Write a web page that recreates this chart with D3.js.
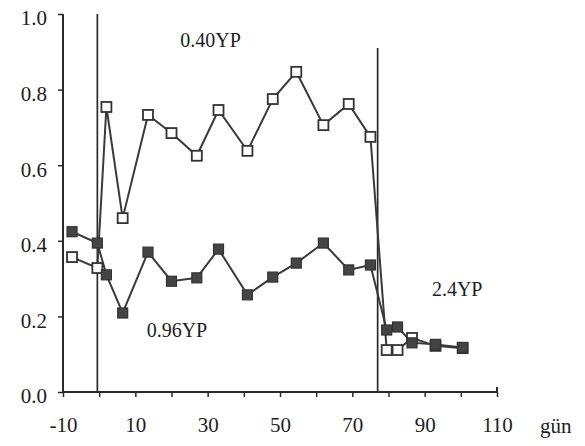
<!DOCTYPE html>
<html>
<head>
<meta charset="utf-8">
<script src="https://cdn.jsdelivr.net/npm/d3@7"></script>
<style>
  html, body { margin: 0; padding: 0; background: #fff; }
  svg { display: block; }
  text { font-family: "Liberation Serif", "Times New Roman", serif; fill: #1e1e1e; }
</style>
</head>
<body>
<svg id="chart" width="585" height="446"></svg>
<script>
// ---- data ----
const days      = [-7.5, -0.5, 2, 6.5, 13.5, 20, 27, 33, 41, 48, 54.5, 62, 69, 75, 79.5, 82.5, 86.5, 93, 100.5];
const openVals  = [0.357, 0.328, 0.754, 0.460, 0.733, 0.685, 0.625, 0.746, 0.638, 0.775, 0.847, 0.706, 0.762, 0.675, 0.111, 0.111, 0.143, 0.122, 0.116];
const filledVals= [0.424, 0.394, 0.310, 0.209, 0.370, 0.293, 0.302, 0.378, 0.257, 0.304, 0.341, 0.394, 0.323, 0.336, 0.164, 0.172, 0.130, 0.126, 0.118];
const xTicks    = [-10, 0, 10, 20, 30, 40, 50, 60, 70, 80, 90, 100, 110];
const xLabels   = [-10, 10, 30, 50, 70, 90, 110];
const yTicks    = [0, 0.2, 0.4, 0.6, 0.8, 1.0];
const phaseLines = [{day: -0.5, top: 1.0}, {day: 77, top: 0.91}];
const annotations = [
  {text: "0.40YP", day: 30.8, val: 0.913},
  {text: "0.96YP", day: 21.5, val: 0.146},
  {text: "2.4YP",  day: 99,   val: 0.254}
];
const xUnit = "gün";

// ---- chart ----
const svg = d3.select("#chart");
const x = d3.scaleLinear().domain([-10, 110]).range([63, 497]);
const y = d3.scaleLinear().domain([0, 1]).range([392, 14]);
const ink = "#2a2a2a";

// phase separator lines
svg.selectAll("line.phase").data(phaseLines).enter().append("line")
  .attr("class", "phase")
  .attr("x1", d => x(d.day)).attr("x2", d => x(d.day))
  .attr("y1", d => y(d.top)).attr("y2", y(0))
  .attr("stroke", ink).attr("stroke-width", 1.7);

// axes
const xAxis = d3.axisBottom(x).tickValues(xTicks).tickSize(5).tickPadding(20)
  .tickFormat(d => xLabels.includes(d) ? d : "");
const gx = svg.append("g").attr("transform", `translate(0,${y(0)})`).call(xAxis);
gx.select(".domain").attr("stroke", ink).attr("stroke-width", 2).attr("d", `M${x(-10)},0H${x(110)}V-5`);
gx.selectAll(".tick line").attr("stroke", ink).attr("stroke-width", 1.5);
gx.selectAll(".tick text").attr("font-size", 21).attr("font-family", "Liberation Serif").attr("fill", "#1e1e1e");

const yAxis = d3.axisLeft(y).tickValues(yTicks).tickSize(5).tickPadding(11)
  .tickFormat(d3.format(".1f"));
const gy = svg.append("g").attr("transform", `translate(${x(-10)},0)`).call(yAxis);
gy.select(".domain").attr("stroke", ink).attr("stroke-width", 2).attr("d", `M0,${y(0)}V${y(1)}`);
gy.selectAll(".tick line").attr("stroke", ink).attr("stroke-width", 1.5);
gy.selectAll(".tick text").attr("font-size", 21).attr("font-family", "Liberation Serif")
  .attr("fill", "#1e1e1e").attr("dy", "0.52em");

svg.append("text").attr("x", 540).attr("y", 433).attr("font-size", 21).text(xUnit);

// series
const line = d3.line().x(d => x(d[0])).y(d => y(d[1]));
const openData = days.map((d, i) => [d, openVals[i]]);
const filledData = days.map((d, i) => [d, filledVals[i]]);
const S = 10;

svg.append("path").datum(openData).attr("d", line)
  .attr("fill", "none").attr("stroke", "#3a3a3a").attr("stroke-width", 2);
svg.append("path").datum(filledData).attr("d", line)
  .attr("fill", "none").attr("stroke", "#3a3a3a").attr("stroke-width", 2);

svg.selectAll("rect.open").data(openData).enter().append("rect")
  .attr("class", "open")
  .attr("x", d => x(d[0]) - S / 2).attr("y", d => y(d[1]) - S / 2)
  .attr("width", S).attr("height", S)
  .attr("fill", "#fff").attr("stroke", "#333").attr("stroke-width", 1.8);

svg.selectAll("rect.filled").data(filledData).enter().append("rect")
  .attr("class", "filled")
  .attr("x", d => x(d[0]) - S / 2).attr("y", d => y(d[1]) - S / 2)
  .attr("width", S).attr("height", S)
  .attr("fill", "#444").attr("stroke", "#333").attr("stroke-width", 1.2);

// annotations
svg.selectAll("text.ann").data(annotations).enter().append("text")
  .attr("class", "ann")
  .attr("x", d => x(d.day)).attr("y", d => y(d.val))
  .attr("text-anchor", "middle").attr("font-size", 20)
  .text(d => d.text);
</script>
</body>
</html>
